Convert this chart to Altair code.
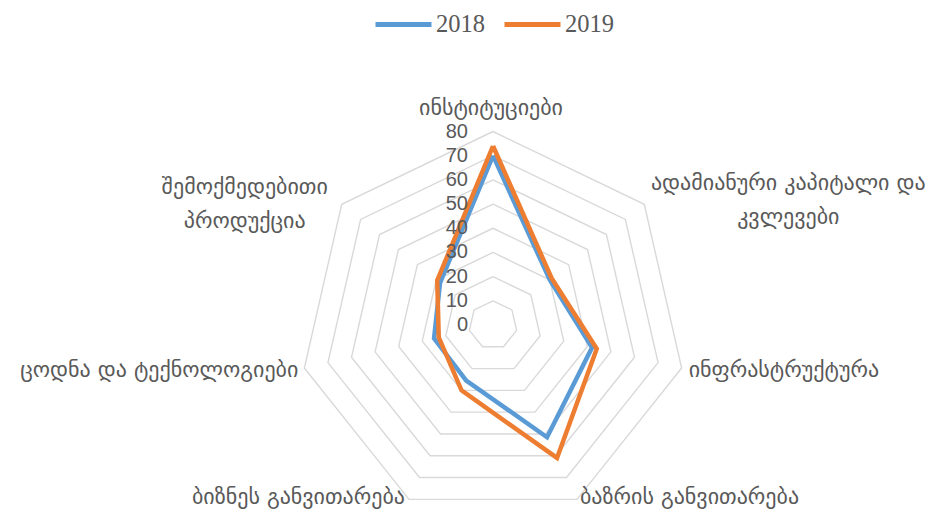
import math
import altair as alt
import pandas as pd

# ---- data ----
categories = [
    "ინსტიტუციები",
    "ადამიანური კაპიტალი და\nკვლევები",
    "ინფრასტრუქტურა",
    "ბაზრის განვითარება",
    "ბიზნეს განვითარება",
    "ცოდნა და ტექნოლოგიები",
    "შემოქმედებითი\nპროდუქცია",
]
values_2018 = [70, 30, 42, 51.5, 25.5, 25, 28]
values_2019 = [74, 31, 44, 61, 30, 23, 29.5]
series_names = ["2018", "2019"]
ring_levels = [10, 20, 30, 40, 50, 60, 70, 80]
tick_values = [0, 10, 20, 30, 40, 50, 60, 70, 80]

N = len(categories)

# ---- tables built from the arrays ----
series_rows = []
for name, vals in zip(series_names, [values_2018, values_2019]):
    for k in range(N + 1):
        series_rows.append({"series": name, "k": k, "value": vals[k % N]})
series_df = pd.DataFrame(series_rows)

ring_df = pd.DataFrame([{"level": L, "k": k} for L in ring_levels for k in range(N + 1)])
label_df = pd.DataFrame({"category": categories, "k": list(range(N)), "value": [max(ring_levels)] * N})
tick_df = pd.DataFrame({"value": tick_values, "k": [0] * len(tick_values)})

# ---- layout (pixels) ----
W, H = 926, 502
CX, CY = 485, 317          # centre of the radar inside the plot area
R_PX = 193.5               # radius of outermost ring
K = R_PX / max(ring_levels)
x_dom = [-CX / K, (W - CX) / K]
y_dom = [-(H - CY) / K, CY / K]

xs = alt.Scale(domain=x_dom, nice=False, zero=False)
ys = alt.Scale(domain=y_dom, nice=False, zero=False)


def polar(ch, field="value"):
    return ch.transform_calculate(
        ang=f"datum.k * 2 * PI / {N}",
        px=f"datum.{field} * sin(datum.ang)",
        py=f"datum.{field} * cos(datum.ang)",
    )


X = alt.X("px:Q", scale=xs, axis=None)
Y = alt.Y("py:Q", scale=ys, axis=None)

rings = polar(alt.Chart(ring_df), "level").mark_line(
    color="#D9D9D9", strokeWidth=1.4
).encode(x=X, y=Y, detail="level:N", order="k:Q")

lines = polar(alt.Chart(series_df)).mark_line(strokeWidth=4.5, strokeJoin="miter").encode(
    x=X,
    y=Y,
    order="k:Q",
    detail="series:N",
    color=alt.Color(
        "series:N",
        scale=alt.Scale(domain=series_names, range=["#5B9BD5", "#ED7D31"]),
        legend=alt.Legend(
            title=None,
            orient="none",
            legendX=365,
            legendY=-14,
            direction="horizontal",
            symbolType="stroke",
            symbolSize=3136,
            symbolStrokeWidth=5,
            labelFont="Liberation Serif",
            labelFontSize=24.5,
            labelColor="#595959",
            labelOffset=2,
            columnPadding=9,
            padding=0,
        ),
    ),
)

ticks = polar(alt.Chart(tick_df)).mark_text(
    align="right", baseline="middle", dx=-25, font="Liberation Sans", fontSize=20, color="#595959"
).encode(x=X, y=Y, text="value:Q")

# label styles per category index: (align, dx, dy)
label_style = {
    0: ("center", -2, -24),
    1: ("center", 144, -21),
    2: ("left", 7, 2),
    3: ("left", 3, -2),
    4: ("right", -4, -2),
    5: ("right", -6, 2),
    6: ("center", -97, -17),
}
label_layers = []
for idx, (al, dx, dy) in label_style.items():
    label_layers.append(
        polar(alt.Chart(label_df))
        .transform_filter(f"datum.k == {idx}")
        .mark_text(
            align=al, baseline="middle", dx=dx, dy=dy, font="DejaVu Sans", fontSize=22,
            color="#595959", lineBreak="\n", lineHeight=34,
        )
        .encode(x=X, y=Y, text="category:N")
    )

chart = alt.layer(rings, lines, ticks, *label_layers).properties(
    width=W, height=H, padding=0, autosize="none"
).configure_view(stroke=None)

chart.save("out.html", embed_options={"renderer": "svg", "actions": False})
